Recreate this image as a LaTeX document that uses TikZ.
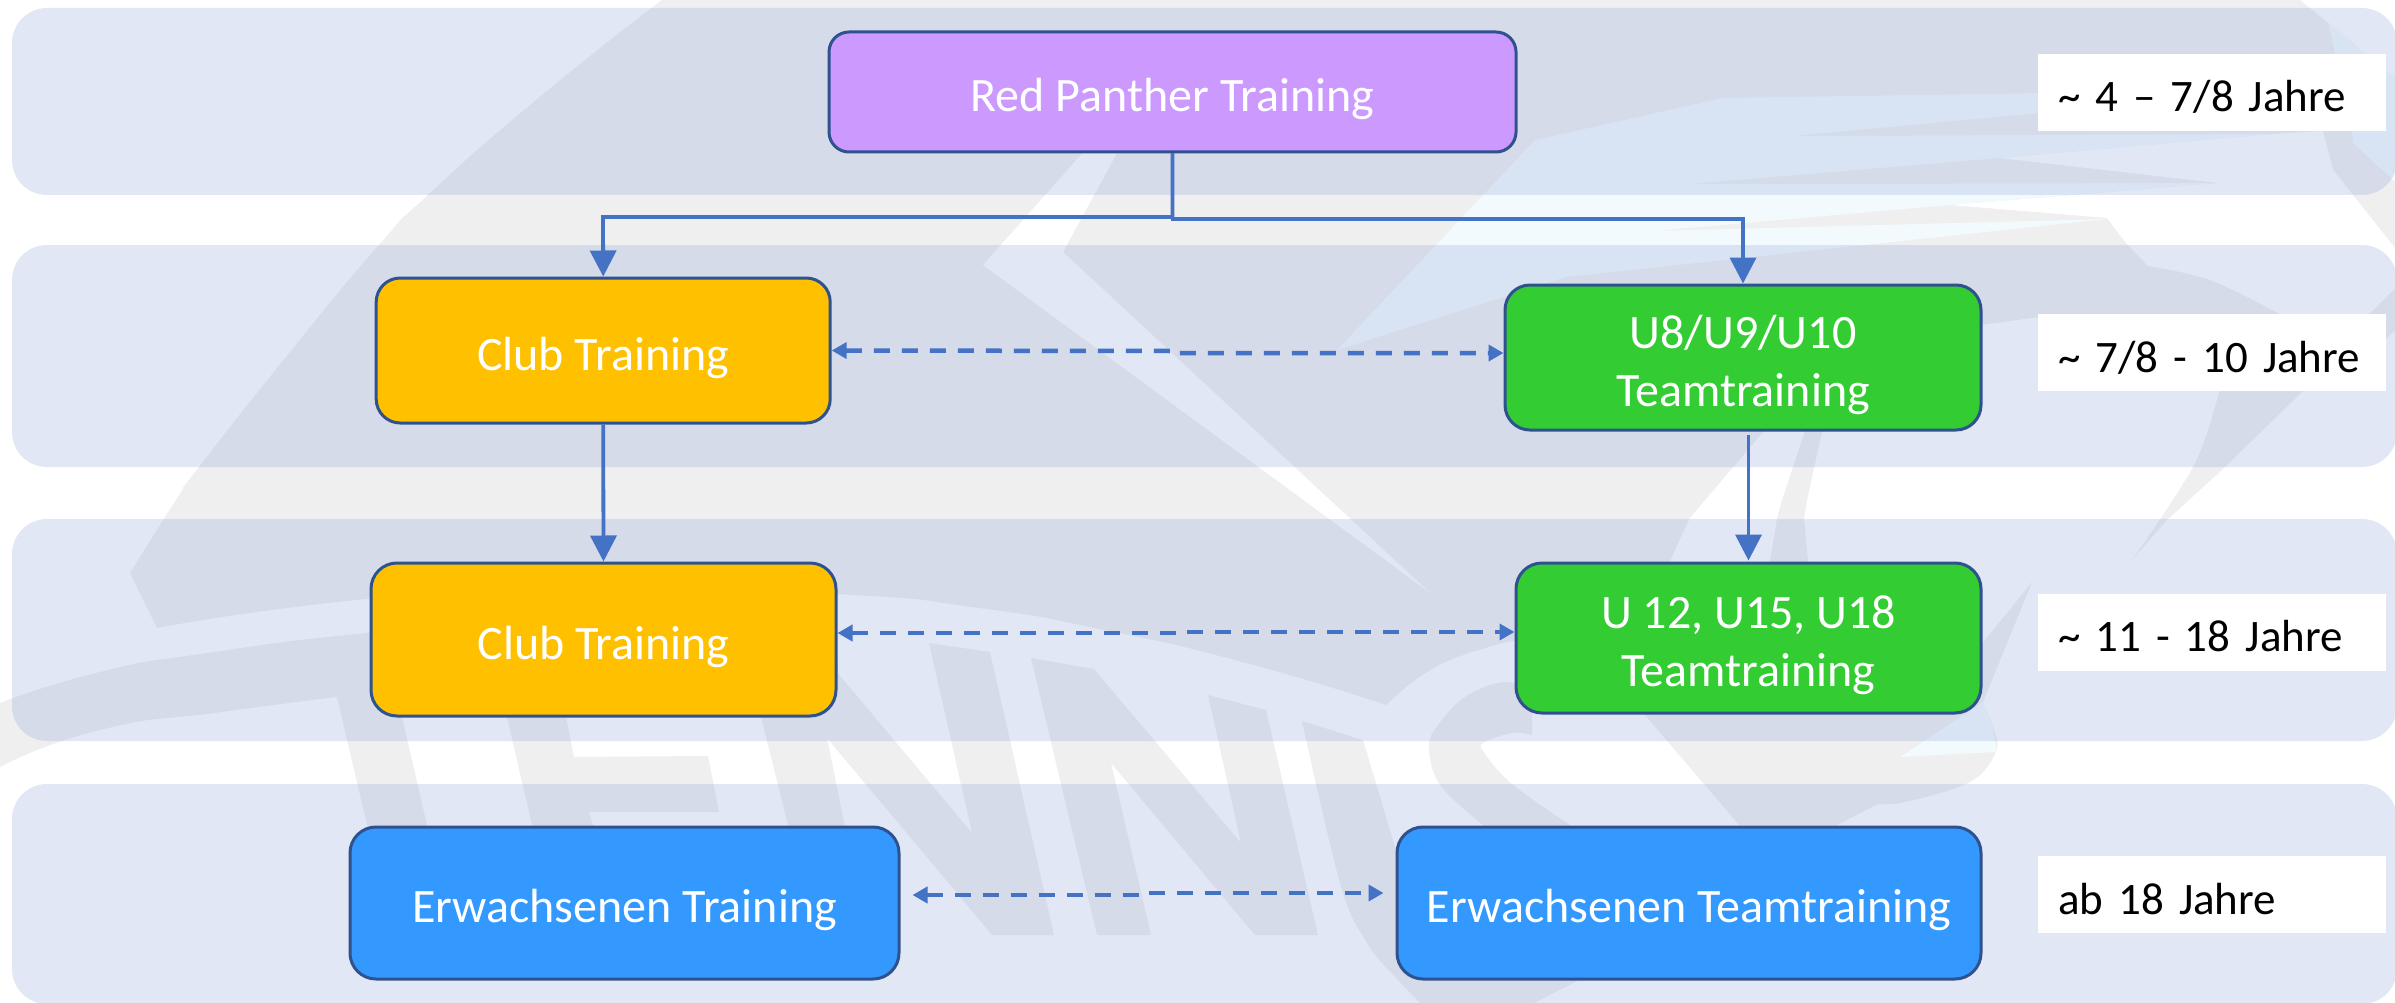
\documentclass[tikz,border=0pt]{standalone}
\usepackage{fontspec}
\setmainfont{Carlito}
\usetikzlibrary{arrows.meta,calc}
\definecolor{wmgray}{HTML}{EFEFEF}
\definecolor{wmblue}{HTML}{F2FAFE}
\definecolor{bandc}{HTML}{8BA3D7}
\definecolor{edgec}{HTML}{2F528F}
\definecolor{linec}{HTML}{4472C4}
\definecolor{cpurple}{HTML}{CC99FF}
\definecolor{cyellow}{HTML}{FFC000}
\definecolor{cgreen}{HTML}{33CC33}
\definecolor{cblue}{HTML}{3399FF}
\tikzset{
  wm/.style={fill=wmgray,draw=none},
  wmw/.style={fill=white,draw=none},
  wmb/.style={fill=wmblue,draw=none},
  band/.style={fill=bandc,fill opacity=.25,draw=none,rounded corners=35pt},
  boxn/.style={draw=edgec,line width=3pt,text=white,inner sep=0pt,align=center,
    font=\fontsize{48}{58}\selectfont,text height=39.5pt,text depth=0pt},
  boxtwo/.style={boxn,text height=97.5pt,text depth=0pt},
  agelabel/.style={fill=white,draw=none,text=black,inner xsep=20pt,inner ysep=0pt,
    minimum height=77pt,text width=308pt,align=left,
    font=\fontsize{45}{58}\selectfont,text height=39pt,text depth=0pt},
  conn/.style={draw=linec,line width=3.8pt,-{Triangle[length=26pt,width=26pt]}},
  dconn/.style={draw=linec,line width=4.5pt,dash pattern=on 16pt off 12pt,
    {Triangle[length=15pt,width=16pt]}-{Triangle[length=15pt,width=16pt]}}
}
\begin{document}
\begin{tikzpicture}[x=1pt,y=-1pt,line join=miter]
\useasboundingbox (0,0) rectangle (2395,1003);
\begin{scope}
\clip (0,0) rectangle (2395,1003);
\fill[white] (0,0) rectangle (2395,1003);
% watermark: main mass
\fill[wm] (662,0) -- (2300,0) -- (2395,78) -- (2395,330) -- (2387,338) -- (2303,391) -- (2225,467) -- (2167,520) -- (2132,560)
  -- plot[smooth,tension=.6] coordinates {(2132,560) (2193,467) (2217,400) (2219,391)}
  -- (2150,340) -- (2039,317) -- (1981,325) -- (1900,380) -- (1822,432) -- (1807,500) -- (1804,518) -- (1808,561) -- (1850,620) -- (1981,645) -- (2032,582) -- (1983,702)
  -- plot[smooth,tension=.6] coordinates {(1983,702) (1992,725) (1997,748) (1980,775) (1950,790) (1900,803) (1878,804)}
  -- (1837,825) -- (1739,825) -- (1645,715) -- (1516,642)
  -- plot[smooth,tension=.6] coordinates {(1516,642) (1503,643) (1450,660) (1415,680) (1386,705)}
  -- plot[smooth,tension=1] coordinates {(1386,705) (1246,663) (1104,630) (979,608) (838,594) (600,585) (367,599) (157,628)}
  -- (130,573)
  -- plot[smooth,tension=1] coordinates {(130,573) (176,500) (199,467) (290,352) (379,245) (428,195) (536,100) (662,0)}
  -- cycle;
% white area at the right
\fill[wmw] (2000,158) -- (2273,134) -- (2323,131) -- (2333,170) -- (2395,248) -- (2395,288) -- (2370,313) -- (2300,335)
  -- plot[smooth,tension=.6] coordinates {(2280,314) (2210,280) (2148,266)}
  -- (2126,243) -- (2107,218) -- (1950,205) -- (2218,183) -- cycle;
% light blue wings
\fill[wmb] (1337,350) -- (1535,140) -- (1723,98) -- (2040,93) -- (2040,113) -- (1792,136) -- (2273,134) -- (2000,158) -- (1689,184) -- (2218,183) -- (1950,205) -- (1654,231) -- (2107,219) -- (1566,277) -- cycle;
\fill[wmb] (2328,22) -- (2395,78) -- (2395,182) -- (2353,143) -- (2352,131) -- (2335,53) -- cycle;
\fill[wmb] (1900,757) -- (1983,702) -- (1992,725) -- (1997,752) -- cycle;
% lightning and sliver
\fill[wmw] (1112,120) -- (983,265) -- (1429,592) -- (1063,252) -- (1135,120) -- cycle;
\fill[wmw] (1660,600) -- (1670,561) -- (1690,518) -- (1764,431) -- (1800,400) -- (1815,400) -- (1782,500) -- (1777,518) -- (1770,561) -- (1770,600) -- cycle;
% lower swoosh and letters
\fill[wm] plot[smooth,tension=1] coordinates {(0,703) (100,672) (207,653) (367,633) (520,622) (700,625) (836,640)}
  -- (838,673) -- (838,700) -- (400,700) -- (337,697)
  -- plot[smooth,tension=1] coordinates {(337,697) (222,712) (100,730) (0,767)} -- cycle;
\fill[wm] (337,697) -- (367,825) -- (367,860) -- (432,860) -- (427,825) -- (402,717) -- (402,690) -- cycle;
\fill[wm] (500,690) -- (507,717) -- (532,825) -- (537,860) -- (597,860) -- (593,825) -- (589,812) -- (719,812) -- (708,756) -- (574,757) -- (566,717) -- (566,690) -- cycle;
\fill[wm] (750,640) -- (810,640) -- (972,833) -- (929,643) -- (990,652) -- (1054,935) -- (992,935) -- (827,738) -- (845,827) -- (845,860) -- (792,860) -- (788,825) -- (761,717) -- cycle;
\fill[wm] (1031,658) -- (1094,669) -- (1241,843) -- (1208,695) -- (1266,710) -- (1318,935) -- (1255,935) -- (1111,763) -- (1151,935) -- (1097,935) -- cycle;
\fill[wm] plot[smooth,tension=.6] coordinates {(1302,721) (1340,883) (1367,943) (1398,980) (1420,1003)}
  -- (1440,1003) -- (1440,900) -- (1398,857) -- (1363,740) -- cycle;
\fill[wm] plot[smooth,tension=.6] coordinates {(1532,690) (1503,682) (1465,697) (1438,725) (1429,747) (1440,785) (1483,825)}
  -- (1430,900) -- (1420,1003) -- (1534,1003) -- (1579,980) -- (1585,900)
  -- plot[smooth,tension=.6] coordinates {(1570,825) (1512,784) (1483,751) (1485,742) (1512,733) (1532,735)} -- cycle;
% bands
\fill[band] (12,8) rectangle (2397,195);
\fill[band] (12,245) rectangle (2397,467);
\fill[band] (12,519) rectangle (2397,741);
\fill[band] (12,784) rectangle (2397,1004);
\end{scope}
% age labels
\node[agelabel,anchor=west] (l1) at (2038,92.5) {\mbox{\textasciitilde{} 4 – 7/8 Jahre}};
\node[agelabel,anchor=west] (l2) at (2038,352.5) {\mbox{\textasciitilde{} 7/8 - 10 Jahre}};
\node[agelabel,anchor=west] (l3) at (2038,632) {\mbox{\textasciitilde{} 11 - 18 Jahre}};
\node[agelabel,anchor=west] (l4) at (2038,894.5) {\mbox{ab 18 Jahre}};
% boxes
\node[boxn,fill=cpurple,rounded corners=20pt,minimum width=687pt,minimum height=120pt] (red) at (1172.5,92) {Red Panther Training};
\node[boxn,fill=cyellow,rounded corners=24pt,minimum width=454pt,minimum height=145pt] (club1) at (603.2,350.5) {Club Training};
\node[boxn,fill=cyellow,rounded corners=26pt,minimum width=465pt,minimum height=153pt] (club2) at (603.5,639.5) {Club Training};
\node[boxtwo,fill=cgreen,rounded corners=25pt,minimum width=476pt,minimum height=145pt] (u8) at (1743,357.5) {U8/U9/U10\\Teamtraining};
\node[boxtwo,fill=cgreen,rounded corners=26pt,minimum width=465pt,minimum height=150pt] (u12) at (1748.5,638) {U 12, U15, U18\\Teamtraining};
\node[boxn,fill=cblue,rounded corners=26pt,minimum width=549pt,minimum height=152pt] (erw) at (624.5,903) {Erwachsenen Training};
\node[boxn,fill=cblue,rounded corners=26pt,minimum width=584pt,minimum height=152pt] (erwt) at (1689,903) {Erwachsenen Teamtraining};
% connectors
\coordinate (b1) at (603,217);
\coordinate (b2) at (1743,219);
\draw[conn] (red.south) |- (b1) -- (club1.north);
\draw[conn] (red.south) |- (b2) -- (u8.north);
\draw[conn] (club1.south) -- (club2.north);
\coordinate (u8out) at ($(u12.north |- u8.south)+(0,3)$);
\draw[conn,shorten >=1pt] (u8out) -- (u12.north);
\coordinate (d1a) at (1170,351);
\coordinate (d1b) at (1170,353);
\draw[dconn] (club1.east) -- (d1a) -- (d1b) -- ([yshift=4.5pt]u8.west);
\coordinate (d2a) at (1179,633);
\coordinate (d2b) at (1179,632);
\draw[dconn] ([yshift=6.5pt]club2.east) -- (d2a) -- (d2b) -- ([yshift=6pt]u12.west);
\coordinate (d3a) at (1146,895);
\coordinate (d3b) at (1146,893);
\draw[dconn,shorten <=12pt,shorten >=12pt] ([yshift=8pt]erw.east) -- (d3a) -- (d3b) -- ([yshift=10pt]erwt.west);
\end{tikzpicture}
\end{document}
